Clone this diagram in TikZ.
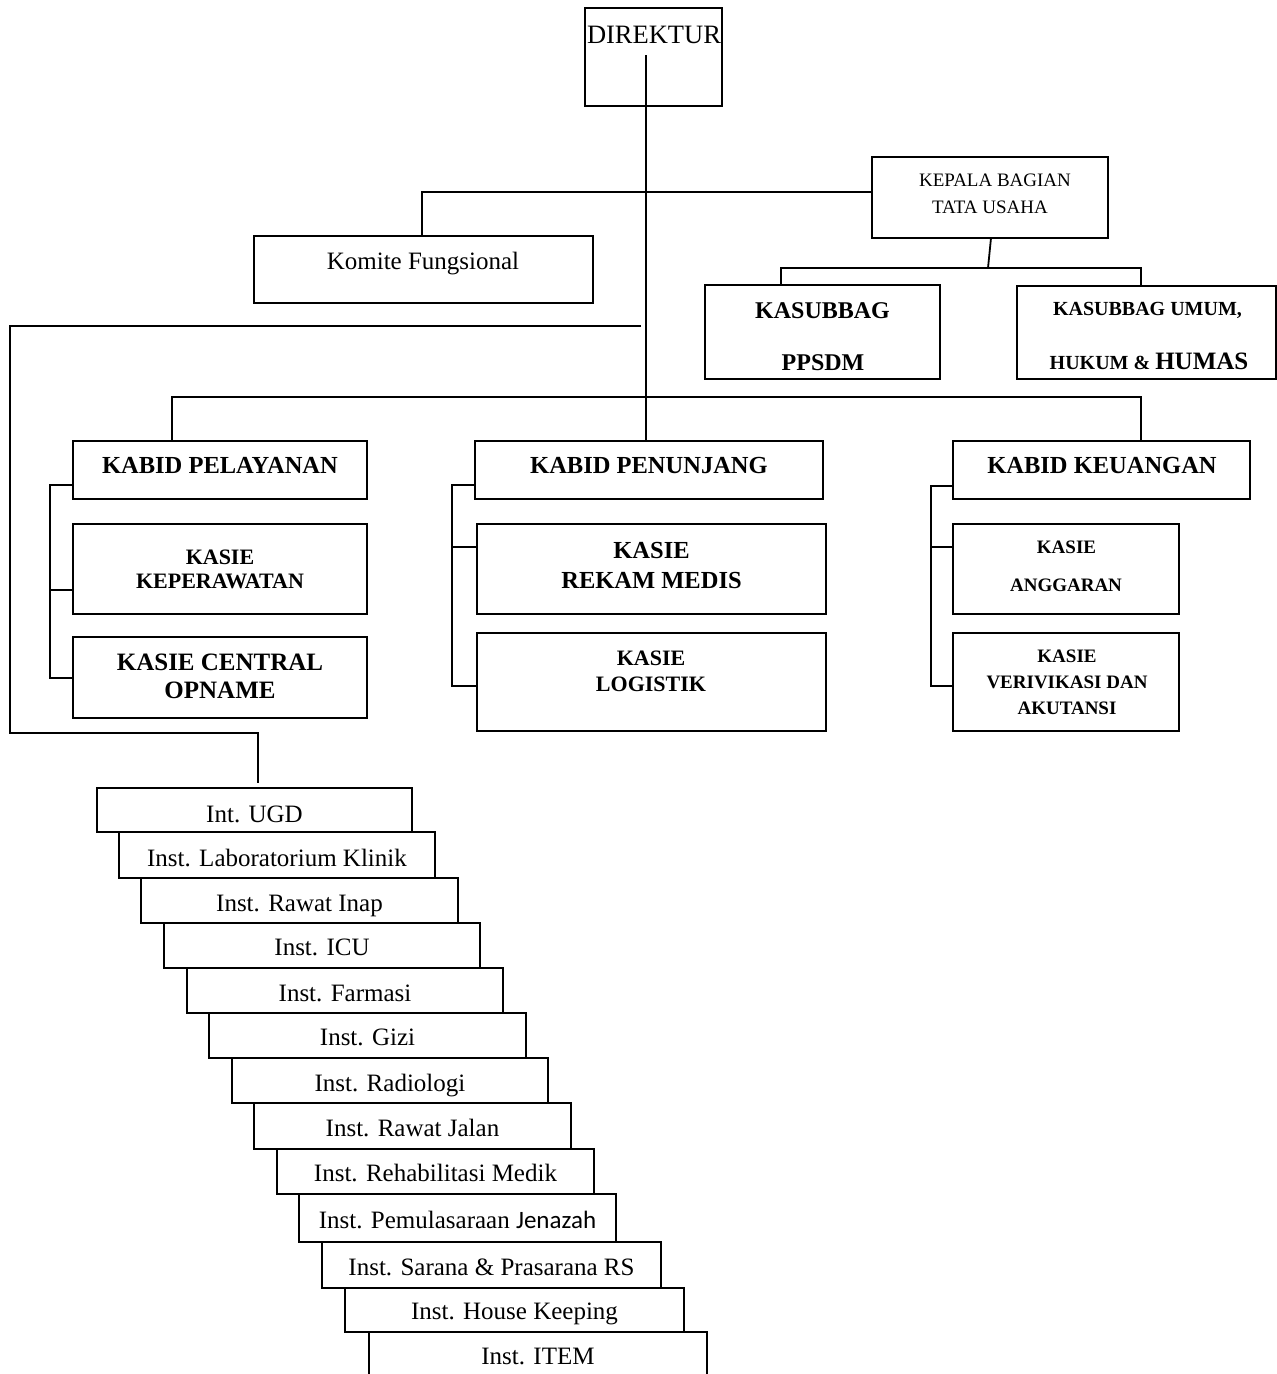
\documentclass[tikz,border=0pt]{standalone}
\usepackage{fontspec}
\setmainfont{Liberation Serif}
\newfontfamily\calibfont{Carlito}
\usetikzlibrary{calc}
\tikzset{
  orgbox/.style={draw, line width=1.8pt, rectangle, inner sep=0pt, outer sep=0pt},
  conn/.style={line width=1.8pt},
  txt/.style={inner sep=0pt, anchor=base},
  fs/.style={txt, font=\fontsize{#1}{#1}\selectfont},
  bfs/.style={txt, font=\fontsize{#1}{#1}\selectfont\bfseries},
}
\newcommand\mkbox[5]{\node[orgbox, minimum width={(#4-#2)*1pt}, minimum height={(#5-#3)*1pt}] (#1) at ({(#2+#4)/2},{(#3+#5)/2}) {};}
\begin{document}
\begin{tikzpicture}[x=1pt, y=-1pt]
\fill[white] (0,0) rectangle (1277,1374);
\clip (0,0) rectangle (1277,1374);

% ---------- boxes ----------
\mkbox{dir}{585}{8}{722}{106}
\mkbox{kep}{872}{157}{1108}{238}
\mkbox{kom}{254}{236}{593}{303}
\mkbox{ppsdm}{705}{285}{940}{379}
\mkbox{umum}{1017}{286}{1276}{379}
\mkbox{kpel}{73}{441}{367}{499}
\mkbox{kpen}{475}{441}{823}{499}
\mkbox{kkeu}{953}{441}{1250}{499}
\mkbox{kkep}{73}{524}{367}{614}
\mkbox{kcen}{73}{637}{367}{718}
\mkbox{krek}{477}{524}{826}{614}
\mkbox{klog}{477}{633}{826}{731}
\mkbox{kang}{953}{524}{1179}{614}
\mkbox{kver}{953}{633}{1179}{731}

% ---------- texts ----------
\node[fs=26.5] (dirT) at (654,43.8) {DIREKTUR};
\node[fs=19] (kepT1) at (995,186) {KEPALA BAGIAN};
\node[fs=19] (kepT2) at (990,213) {TATA USAHA};
\node[fs=25] (komT) at (423,269.5) {Komite Fungsional};
\node[bfs=24] (ppsdmT1) at (822.5,318) {KASUBBAG};
\node[bfs=24] (ppsdmT2) at (823,370) {PPSDM};
\node[bfs=20] (umumT1) at (1147.5,315) {KASUBBAG UMUM,};
\node[bfs=20] (umumT2) at (1149,369.5) {HUKUM \& {\fontsize{25}{25}\selectfont HUMAS}};
\node[bfs=24.5] (kpelT) at (220,473) {KABID PELAYANAN};
\node[bfs=24.5] (kpenT) at (649,473) {KABID PENUNJANG};
\node[bfs=24.5] (kkeuT) at (1102,473) {KABID KEUANGAN};
\node[bfs=22] (kkepT1) at (220,564.5) {KASIE};
\node[bfs=22] (kkepT2) at (220,588.5) {KEPERAWATAN};
\node[bfs=25] (kcenT1) at (220,670) {KASIE CENTRAL};
\node[bfs=25] (kcenT2) at (220,698.5) {OPNAME};
\node[bfs=24.5] (krekT1) at (651.5,558) {KASIE};
\node[bfs=24.5] (krekT2) at (651.5,588) {REKAM MEDIS};
\node[bfs=22] (klogT1) at (651,665) {KASIE};
\node[bfs=22] (klogT2) at (651,691) {LOGISTIK};
\node[bfs=19] (kangT1) at (1066.5,553.5) {KASIE};
\node[bfs=19] (kangT2) at (1066,591) {ANGGARAN};
\node[bfs=19] (kverT1) at (1067,662) {KASIE};
\node[bfs=19] (kverT2) at (1067,688.5) {VERIVIKASI DAN};
\node[bfs=19] (kverT3) at (1067,714.5) {AKUTANSI};

% ---------- stair of installations ----------
\foreach \i/\xa/\xb/\ya/\yb/\bl/\t in {
  1/97/412/788/832/822/{Int. UGD},
  2/119/435/832/878/866/{Inst. Laboratorium Klinik},
  3/141/458/878/923/911.5/{Inst. Rawat Inap},
  4/164/480/923/968/955.5/{Inst. ICU},
  5/187/503/968/1013/1001/{Inst. Farmasi},
  6/209/526/1013/1058/1045.5/{Inst. Gizi},
  7/232/548/1058/1103/1091/{Inst. Radiologi},
  8/254/571/1103/1149/1136.5/{Inst. Rawat Jalan},
  9/277/594/1149/1194/1181/{Inst. Rehabilitasi Medik},
  10/299/616/1194/1242/1228/{Inst. Pemulasaraan {\calibfont Jenazah}},
  11/322/661/1242/1288/1275/{Inst. Sarana \& Prasarana RS},
  12/345/684/1288/1332/1319/{Inst. House Keeping},
  13/369/707/1332/1390/1364/{Inst. ITEM}}{
  \mkbox{s\i}{\xa}{\ya}{\xb}{\yb}
  \node[fs=25] (s\i T) at ({(\xa+\xb)/2},\bl) {\t};
}

% ---------- connectors ----------
\coordinate (d0) at (646,55);
\draw[conn] (d0) -- (d0 |- kpen.north);

\coordinate (j1) at (422,192);
\draw[conn] (kep.west |- j1) -- (j1) -- (j1 |- kom.north);

\coordinate (k0) at (991,238);
\coordinate (j2) at (988,268);
\coordinate (j2l) at (781,268);
\coordinate (j2r) at (1141,268);
\draw[conn] (k0) -- (j2);
\draw[conn] (j2l |- ppsdm.north) -- (j2l) -- (j2r) -- (j2r |- umum.north);

\coordinate (c1) at (641,326);
\coordinate (c2) at (10,326);
\coordinate (c3) at (10,733);
\coordinate (c4) at (258,733);
\coordinate (c5) at (258,783);
\draw[conn] (c1) -- (c2) -- (c3) -- (c4) -- (c5);

\coordinate (j4l) at (172,397);
\coordinate (j4r) at (1141,397);
\draw[conn] (j4l |- kpel.north) -- (j4l) -- (j4r) -- (j4r |- kkeu.north);

% brackets
\coordinate (p1) at (50,485);
\coordinate (p2) at (50,590);
\coordinate (p3) at (50,678);
\draw[conn] (kpel.west |- p1) -- (p1) -- (p3) -- (kcen.west |- p3);
\draw[conn] (p2) -- (kkep.west |- p2);

\coordinate (q1) at (452,485);
\coordinate (q2) at (452,547);
\coordinate (q3) at (452,686);
\draw[conn] (kpen.west |- q1) -- (q1) -- (q3) -- (klog.west |- q3);
\draw[conn] (q2) -- (krek.west |- q2);

\coordinate (r1) at (931,486);
\coordinate (r2) at (931,547);
\coordinate (r3) at (931,686);
\draw[conn] (kkeu.west |- r1) -- (r1) -- (r3) -- (kver.west |- r3);
\draw[conn] (r2) -- (kang.west |- r2);
\end{tikzpicture}
\end{document}
